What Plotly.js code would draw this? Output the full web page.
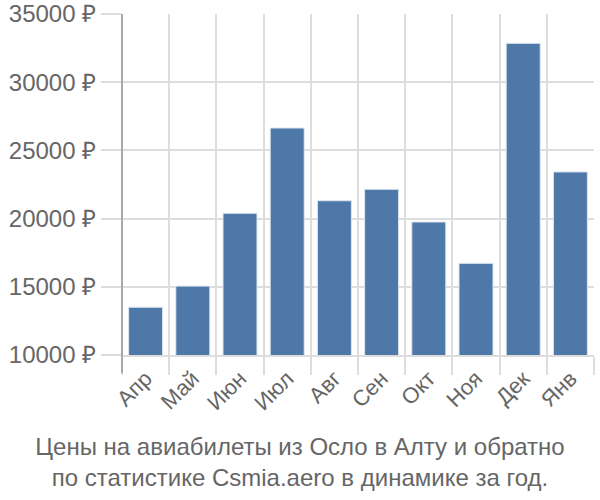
<!DOCTYPE html>
<html>
<head>
<meta charset="utf-8">
<script src="https://cdn.plot.ly/plotly-3.0.1.min.js"></script>
<style>html,body{margin:0;padding:0;background:#fff}#chart{width:600px;height:500px}</style>
</head>
<body>
<div id="chart"></div>
<script>
var months = ["Апр","Май","Июн","Июл","Авг","Сен","Окт","Ноя","Дек","Янв"];
var prices = [13500, 15050, 20390, 26640, 21310, 22150, 19750, 16720, 32850, 23420];
var yTickVals = [10000, 15000, 20000, 25000, 30000, 35000];
var yTickText = ["10000 ₽","15000 ₽","20000 ₽","25000 ₽","30000 ₽","35000 ₽"];
var titleText = "Цены на авиабилеты из Осло в Алту и обратно<br>по статистике Csmia.aero в динамике за год.";

var font = "Liberation Sans, Arial, sans-serif";
var trace = {
  type: "bar",
  x: months,
  y: prices,
  marker: {color: "#4d78a8", line: {color: "#dde5ef", width: 1}},
  hoverinfo: "none"
};
var layout = {
  width: 600, height: 500,
  margin: {l: 122, r: 6, t: 14, b: 145},
  paper_bgcolor: "#fff", plot_bgcolor: "#fff",
  bargap: 0.28,
  showlegend: false,
  font: {family: font, color: "#666"},
  xaxis: {
    type: "category",
    tickson: "boundaries",
    ticks: "outside", ticklen: 18, tickcolor: "#ddd", tickwidth: 2,
    showgrid: true, gridcolor: "#ddd", gridwidth: 2,
    showline: true, linecolor: "#ddd", linewidth: 2,
    tickangle: -45,
    tickfont: {size: 22, color: "#666", family: font},
    fixedrange: true
  },
  yaxis: {
    range: [10000, 35000],
    tickvals: yTickVals, ticktext: yTickText,
    ticks: "outside", ticklen: 20, tickcolor: "#ddd", tickwidth: 2,
    showgrid: true, gridcolor: "#ddd", gridwidth: 2,
    showline: false, zeroline: false,
    tickfont: {size: 24, color: "#666", family: font},
    fixedrange: true
  },
  shapes: [
    {type: "line", xref: "paper", yref: "paper", x0: 0, x1: 0, y0: -0.053, y1: 1,
     line: {color: "#aaa", width: 2}}
  ],
  title: {
    text: titleText,
    xref: "container", yref: "container", x: 0.5, y: 0.09,
    xanchor: "center", yanchor: "middle",
    font: {size: 24, color: "#666", family: font}
  }
};
Plotly.newPlot("chart", [trace], layout, {displayModeBar: false, staticPlot: true});
</script>
</body>
</html>
